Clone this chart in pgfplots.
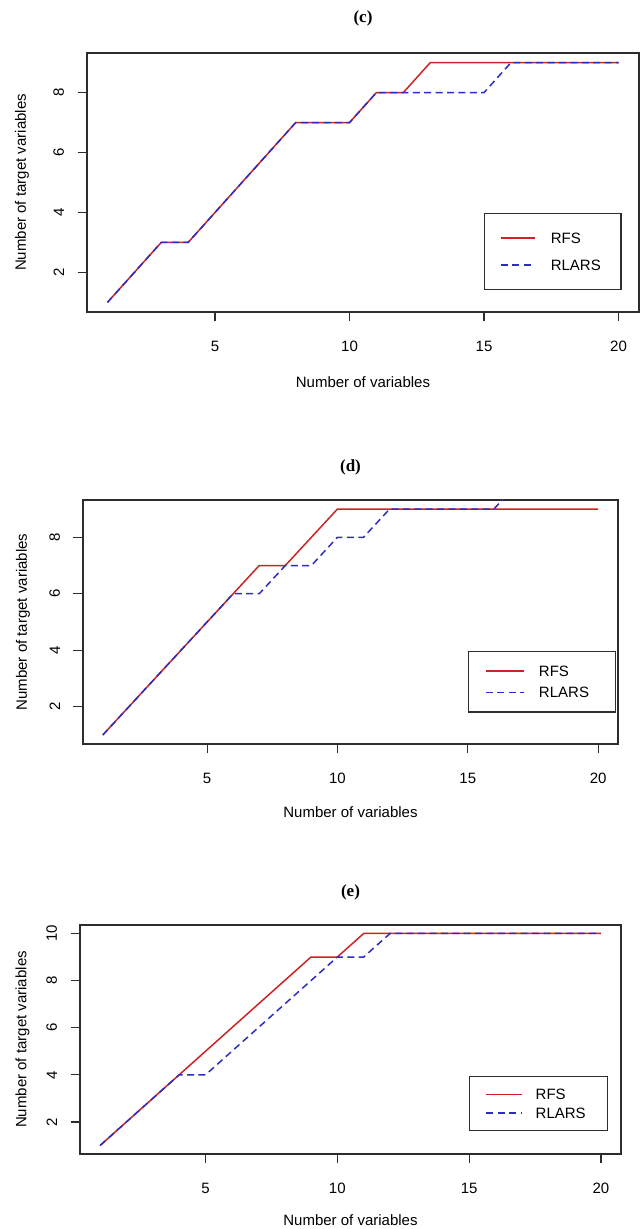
\documentclass[border=0pt]{standalone}
\usepackage{fontspec}
\setmainfont{Liberation Sans}
\newfontfamily\titlefont{Liberation Serif}
\usepackage{pgfplots}
\pgfplotsset{compat=1.18}
\definecolor{rfsc}{RGB}{205,35,35}
\definecolor{larsc}{RGB}{45,45,195}
\definecolor{framec}{RGB}{45,45,45}

% one panel = R base-graphics look
\pgfplotsset{
  rpanel/.style={
    scale only axis, clip=true,
    xmin=0.24, xmax=20.76, xtick={5,10,15,20},
    axis line style={framec, line width=0.7pt},
    tick align=outside, xtick pos=lower, ytick pos=left,
    major tick length=4.75pt,
    tick style={framec, line width=0.6pt},
    /pgf/number format/assume math mode=true,
    ticklabel style={font=\fontsize{7.5}{9}\selectfont},
    xticklabel shift=6.3pt,
    yticklabel style={rotate=90, anchor=south},
    yticklabel shift=3.2pt,
    label style={font=\fontsize{7.5}{9}\selectfont},
    title style={font=\titlefont\bfseries\fontsize{8.5}{10}\selectfont, anchor=center},
    xlabel={Number of variables},
    ylabel={Number of target variables},
    legend cell align=left,
  },
  rfs/.style={rfsc, line width=0.75pt},
  lars/.style={larsc, line width=0.75pt, dash pattern=on 3.5pt off 2.2pt},
}

\begin{document}
\begin{tikzpicture}
\path[use as bounding box] (0,0) rectangle (320.5pt,614.5pt);

% ---------------- (c)
\begin{axis}[rpanel, at={(43.5pt,458.5pt)}, anchor=south west,
  width=276pt, height=129.5pt,
  ymin=0.68, ymax=9.32, ytick={2,4,6,8},
  title={(c)}, title style={at={([yshift=11.5pt]axis description cs:0.5,1)}, anchor=center},
  xlabel style={at={([yshift=-35pt]axis description cs:0.5,0)}, anchor=center},
  ylabel style={at={([xshift=-32.5pt]axis description cs:0,0.5)}, anchor=center},
  legend style={at={(rel axis cs:0.7185,0.383)}, anchor=north west,
    font=\fontsize{7.5}{9}\selectfont,
    draw=framec, line width=0.7pt, inner xsep=8pt, inner ysep=9.55pt,
    row sep=8.05pt, column sep=7.5pt,
    nodes={inner sep=0pt, text height=5.4pt, text depth=0pt}},
  legend image code/.code={\draw[#1] (0pt,0pt) -- (17pt,0pt);},
]
\addplot[rfs] coordinates {(1,1)(2,2)(3,3)(4,3)(5,4)(6,5)(7,6)(8,7)(9,7)(10,7)
  (11,8)(12,8)(13,9)(14,9)(15,9)(16,9)(17,9)(18,9)(19,9)(20,9)};
\addplot[lars] coordinates {(1,1)(2,2)(3,3)(4,3)(5,4)(6,5)(7,6)(8,7)(9,7)(10,7)
  (11,8)(12,8)(13,8)(14,8)(15,8)(16,9)(17,9)(18,9)(19,9)(20,9)};
\legend{RFS,RLARS\hspace*{2pt}}
\end{axis}

% ---------------- (d)
\begin{axis}[rpanel, at={(41.5pt,242.5pt)}, anchor=south west,
  width=267.5pt, height=122pt,
  ymin=0.68, ymax=9.32, ytick={2,4,6,8},
  title={(d)}, title style={at={([yshift=10.5pt]axis description cs:0.5,1)}, anchor=center},
  xlabel style={at={([yshift=-34pt]axis description cs:0.5,0)}, anchor=center},
  ylabel style={at={([xshift=-30pt]axis description cs:0,0.5)}, anchor=center},
  legend style={at={(rel axis cs:0.7196,0.382)}, anchor=north west,
    font=\fontsize{7.5}{9}\selectfont,
    draw=framec, line width=0.7pt, inner xsep=8.2pt, inner ysep=7pt,
    row sep=5.4pt, column sep=7.2pt,
    nodes={inner sep=0pt, text height=5.4pt, text depth=0pt}},
  legend image code/.code={\draw[#1] (0pt,0pt) -- (19pt,0pt);},
]
\addplot[rfs] coordinates {(1,1)(2,2)(3,3)(4,4)(5,5)(6,6)(7,7)(8,7)(9,8)(10,9)
  (11,9)(12,9)(13,9)(14,9)(15,9)(16,9)(17,9)(18,9)(19,9)(20,9)};
\addplot[lars] coordinates {(1,1)(2,2)(3,3)(4,4)(5,5)(6,6)(7,6)(8,7)(9,7)(10,8)
  (11,8)(12,9)(13,9)(14,9)(15,9)(16,9)(17,10)(18,10)(19,10)(20,10)};
\legend{RFS,RLARS\hspace*{5pt}}
\end{axis}

% ---------------- (e)
\begin{axis}[rpanel, at={(40pt,37.5pt)}, anchor=south west,
  width=270.5pt, height=114.5pt,
  ymin=0.64, ymax=10.36, ytick={2,4,6,8,10},
  title={(e)}, title style={at={([yshift=10.5pt]axis description cs:0.5,1)}, anchor=center},
  xlabel style={at={([yshift=-33pt]axis description cs:0.5,0)}, anchor=center},
  ylabel style={at={([xshift=-28.75pt]axis description cs:0,0.5)}, anchor=center},
  legend style={at={(rel axis cs:0.719,0.342)}, anchor=north west,
    font=\fontsize{7.5}{9}\selectfont,
    draw=framec, line width=0.7pt, inner xsep=8pt, inner ysep=6.3pt,
    row sep=3.8pt, column sep=6.5pt,
    nodes={inner sep=0pt, text height=5.4pt, text depth=0pt}},
  legend image code/.code={\draw[#1] (0pt,0pt) -- (17.75pt,0pt);},
]
\addplot[rfs] coordinates {(1,1)(2,2)(3,3)(4,4)(5,5)(6,6)(7,7)(8,8)(9,9)(10,9)
  (11,10)(12,10)(13,10)(14,10)(15,10)(16,10)(17,10)(18,10)(19,10)(20,10)};
\addplot[lars] coordinates {(1,1)(2,2)(3,3)(4,4)(5,4)(6,5)(7,6)(8,7)(9,8)(10,9)
  (11,9)(12,10)(13,10)(14,10)(15,10)(16,10)(17,10)(18,10)(19,10)(20,10)};
\legend{RFS,RLARS\hspace*{3pt}}
\end{axis}
\end{tikzpicture}
\end{document}
